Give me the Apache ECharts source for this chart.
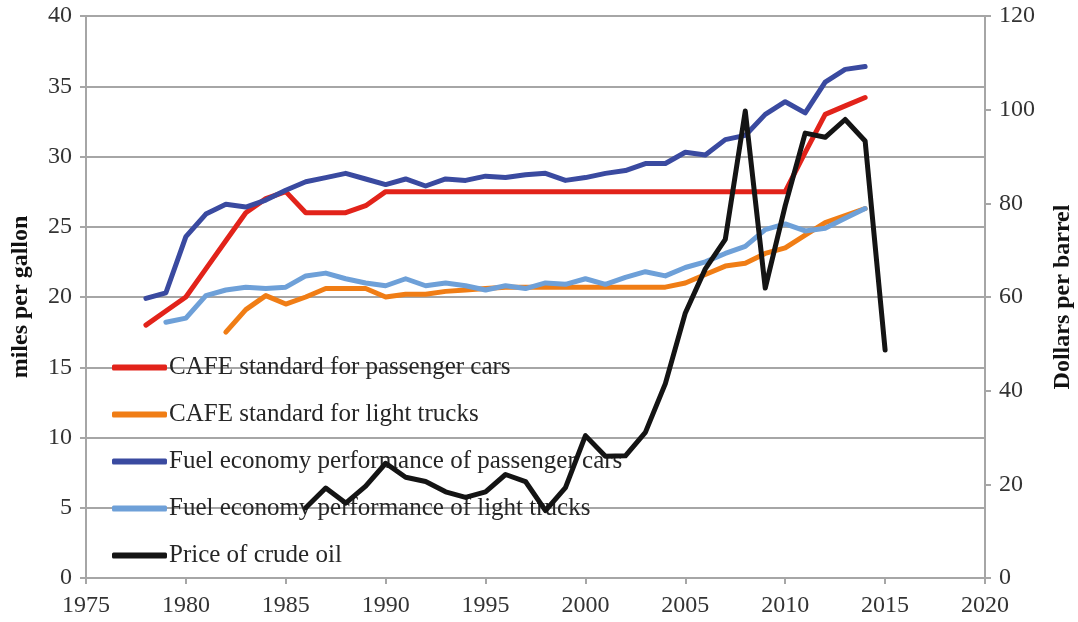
<!DOCTYPE html>
<html>
<head>
<meta charset="utf-8">
<script src="https://cdn.jsdelivr.net/npm/echarts@6/dist/echarts.min.js"></script>
<style>
html,body{margin:0;padding:0;background:#fff;}
#chart{width:1078px;height:622px;}
</style>
</head>
<body>
<div id="chart"></div>
<script>
// Years covered by the chart
var years = [1978,1979,1980,1981,1982,1983,1984,1985,1986,1987,1988,1989,1990,1991,1992,1993,1994,1995,1996,1997,1998,1999,2000,2001,2002,2003,2004,2005,2006,2007,2008,2009,2010,2011,2012,2013,2014,2015];

// CAFE standard for passenger cars (mpg)
var cafeCars = [18.0,19.0,20.0,22.0,24.0,26.0,27.0,27.5,26.0,26.0,26.0,26.5,27.5,27.5,27.5,27.5,27.5,27.5,27.5,27.5,27.5,27.5,27.5,27.5,27.5,27.5,27.5,27.5,27.5,27.5,27.5,27.5,27.5,30.3,33.0,33.6,34.2,null];

// CAFE standard for light trucks (mpg)
var cafeTrucks = [null,null,null,null,17.5,19.1,20.1,19.5,20.0,20.6,20.6,20.6,20.0,20.2,20.2,20.4,20.5,20.6,20.7,20.7,20.7,20.7,20.7,20.7,20.7,20.7,20.7,21.0,21.6,22.2,22.4,23.1,23.5,24.4,25.3,25.8,26.3,null];

// Fuel economy performance of passenger cars (mpg)
var perfCars = [19.9,20.3,24.3,25.9,26.6,26.4,26.9,27.6,28.2,28.5,28.8,28.4,28.0,28.4,27.9,28.4,28.3,28.6,28.5,28.7,28.8,28.3,28.5,28.8,29.0,29.5,29.5,30.3,30.1,31.2,31.5,33.0,33.9,33.1,35.3,36.2,36.4,null];

// Fuel economy performance of light trucks (mpg)
var perfTrucks = [null,18.2,18.5,20.1,20.5,20.7,20.6,20.7,21.5,21.7,21.3,21.0,20.8,21.3,20.8,21.0,20.8,20.5,20.8,20.6,21.0,20.9,21.3,20.9,21.4,21.8,21.5,22.1,22.5,23.1,23.6,24.8,25.2,24.7,24.9,25.6,26.3,null];

// Price of crude oil (dollars per barrel)
var crudeOil = [null,null,null,null,null,null,null,null,15.0,19.2,16.0,19.6,24.5,21.5,20.6,18.4,17.2,18.4,22.1,20.6,14.4,19.3,30.4,26.0,26.1,31.1,41.5,56.6,66.0,72.3,99.7,61.9,79.5,95.0,94.1,97.9,93.3,48.7];

var seriesNames = ['CAFE standard for passenger cars','CAFE standard for light trucks','Fuel economy performance of passenger cars','Fuel economy performance of light trucks','Price of crude oil'];
var seriesColors = ['#e2231a','#f07d15','#3a4aa0','#6ea0d8','#141414'];

function pairs(vals){
  var out = [];
  for (var i = 0; i < years.length; i++) {
    if (vals[i] !== null) out.push([years[i], vals[i]]);
  }
  return out;
}

var font = '"Liberation Serif","Times New Roman",serif';
var gridColor = '#a6a6a6';
var labelColor = '#333';
var allData = [cafeCars, cafeTrucks, perfCars, perfTrucks, crudeOil];

var series = allData.map(function(d, i){
  return {
    name: seriesNames[i],
    type: 'line',
    data: pairs(d),
    yAxisIndex: i === 4 ? 1 : 0,
    symbol: 'none',
    showSymbol: false,
    lineStyle: {color: seriesColors[i], width: 5, cap: 'round', join: 'round'},
    itemStyle: {color: seriesColors[i]},
    z: 2 + i,
    animation: false
  };
});

var chart = echarts.init(document.getElementById('chart'), null, {renderer: 'canvas'});
chart.setOption({
  animation: false,
  backgroundColor: '#fff',
  grid: {left: 86, right: 93, top: 16, bottom: 44, containLabel: false, outerBoundsMode: 'none'},
  legend: {
    orient: 'vertical',
    left: 107,
    top: 350,
    itemWidth: 55,
    itemHeight: 6,
    itemGap: 22,
    icon: 'roundRect',
    data: seriesNames,
    textStyle: {fontFamily: font, fontSize: 25, color: '#262626', padding: [0,0,0,-3]},
    selectedMode: false
  },
  xAxis: {
    type: 'value',
    min: 1975,
    max: 2020,
    interval: 5,
    axisLine: {show: true, lineStyle: {color: gridColor, width: 2}},
    axisTick: {show: true, length: 6, lineStyle: {color: gridColor, width: 2}},
    axisLabel: {fontFamily: font, fontSize: 24, color: labelColor, margin: 16, formatter: function(v){ return String(v); }},
    splitLine: {show: false}
  },
  yAxis: [{
    type: 'value',
    min: 0,
    max: 40,
    interval: 5,
    name: 'miles per gallon',
    nameLocation: 'middle',
    nameRotate: 90,
    nameGap: 53,
    nameTextStyle: {fontFamily: font, fontSize: 24, fontWeight: 'bold', color: '#111'},
    axisLine: {show: true, lineStyle: {color: gridColor, width: 2}},
    axisTick: {show: true, length: 6, lineStyle: {color: gridColor, width: 2}},
    axisLabel: {fontFamily: font, fontSize: 24, color: labelColor, margin: 14},
    splitLine: {show: true, lineStyle: {color: gridColor, width: 2}}
  }, {
    type: 'value',
    min: 0,
    max: 120,
    interval: 20,
    position: 'right',
    name: 'Dollars per barrel',
    nameLocation: 'middle',
    nameRotate: 90,
    nameGap: 66,
    nameTextStyle: {fontFamily: font, fontSize: 24, fontWeight: 'bold', color: '#111'},
    axisLine: {show: true, lineStyle: {color: gridColor, width: 2}},
    axisTick: {show: true, length: 6, lineStyle: {color: gridColor, width: 2}},
    axisLabel: {fontFamily: font, fontSize: 24, color: labelColor, margin: 14},
    splitLine: {show: false}
  }],
  series: series
});
</script>
</body>
</html>
